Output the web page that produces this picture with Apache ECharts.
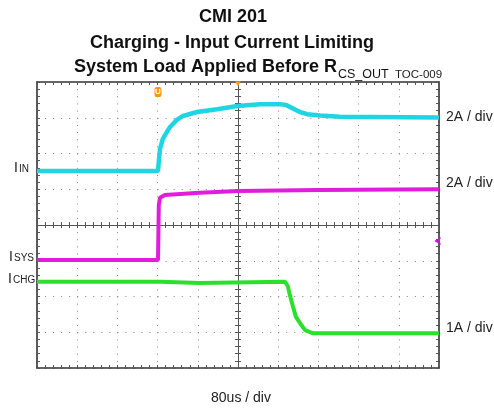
<!DOCTYPE html>
<html><head><meta charset="utf-8">
<script src="https://cdn.jsdelivr.net/npm/echarts@6/dist/echarts.min.js"></script>
<style>html,body{margin:0;padding:0;background:#fff}#c{width:494px;height:411px}</style>
</head><body><div id="c"></div>
<script>
// Text
const titleLines = ['CMI 201', 'Charging - Input Current Limiting', 'System Load Applied Before R'];
const titleSub = 'CS_OUT';
const titleTag = 'TOC-009';
const traceSubs = ['IN', 'SYS', 'CHG'];
const scaleLabels = ['2A / div', '2A / div', '1A / div'];
const timeLabel = '80us / div';

// Traces: x in horizontal divisions (0..10), y in vertical divisions (0..8)
const inTime  = [0, 3.01, 3.02, 3.06, 3.13, 3.23, 3.31, 3.48, 3.63, 3.98, 4.48, 4.98, 5.55, 6.04, 6.19, 6.54, 6.72, 7.04, 7.54, 10];
const inLevel = [5.51, 5.51, 5.65, 6.13, 6.41, 6.60, 6.74, 6.94, 7.05, 7.16, 7.24, 7.33, 7.38, 7.38, 7.36, 7.16, 7.10, 7.06, 7.03, 7.01];
const sysTime  = [0, 3.01, 3.03, 3.06, 3.18, 4.05, 5.0, 7.0, 10];
const sysLevel = [3.02, 3.02, 4.56, 4.76, 4.84, 4.90, 4.95, 4.98, 5.0];
const chgTime  = [0, 3.06, 4.05, 6.17, 6.24, 6.29, 6.37, 6.44, 6.54, 6.67, 6.87, 10];
const chgLevel = [2.41, 2.41, 2.38, 2.41, 2.29, 2.04, 1.71, 1.43, 1.26, 1.06, 0.97, 0.97];
// Markers
const triggerPos = [3.01, 7.72];
const centerMarkPos = [5, 7.95];
const sysRefPos = [9.88, 3.55];

const zip = (a, b) => a.map((v, i) => [v, b[i]]);
const FONT = "'Liberation Sans', Arial, sans-serif";
const G = {left: 37, top: 82, width: 402, height: 286};

function axis(dim, position, offset, inside, showLine, split, lineStyle) {
  const isX = dim === 'x';
  return {
    type: 'value', min: 0, max: isX ? 10 : 8, interval: 1,
    position: position, offset: offset,
    axisLabel: {show: false},
    axisLine: {show: showLine, onZero: false, lineStyle: lineStyle},
    axisTick: {show: true, inside: inside, length: 3, lineStyle: {color: '#555', width: 1}},
    minorTick: {show: true, splitNumber: 5, length: 3, lineStyle: {color: '#555', width: 1}},
    splitLine: {show: split, lineStyle: {color: '#808080', width: 1, type: isX ? [1, 6.15] : [1, 7.04]}},
    z: 3
  };
}
const frameLine = {color: '#333', width: 1.6};
const centerLine = {color: '#555', width: 1};

const option = {
  animation: false,
  backgroundColor: '#fff',
  grid: Object.assign({containLabel: false}, G),
  xAxis: [
    axis('x', 'bottom', 0, true, true, true, frameLine),
    axis('x', 'top', 0, true, true, false, frameLine),
    axis('x', 'bottom', -G.height / 2, false, true, false, centerLine),
    axis('x', 'bottom', -G.height / 2, true, false, false, centerLine)
  ],
  yAxis: [
    axis('y', 'left', 0, true, true, true, frameLine),
    axis('y', 'right', 0, true, true, false, frameLine),
    axis('y', 'left', -G.width / 2, false, true, false, centerLine),
    axis('y', 'left', -G.width / 2, true, false, false, centerLine)
  ],
  series: [
    {
      type: 'line', name: 'IIN', data: zip(inTime, inLevel), showSymbol: false, z: 5,
      lineStyle: {color: '#1fd5e2', width: 4.5}, itemStyle: {color: '#1fd5e2'},
      markPoint: {
        silent: true,
        data: [
          {coord: triggerPos, symbol: 'roundRect', symbolSize: [7, 10], itemStyle: {color: '#f39a1e'},
           label: {show: true, formatter: 'U', color: '#fff', fontSize: 8, fontWeight: 'bold', position: 'inside'}},
          {coord: centerMarkPos, symbol: 'triangle', symbolRotate: 180, symbolSize: [6, 5], itemStyle: {color: '#f39a1e'},
           label: {show: false}}
        ]
      }
    },
    {
      type: 'line', name: 'ISYS', data: zip(sysTime, sysLevel), showSymbol: false, z: 5,
      lineStyle: {color: '#e01ddc', width: 4}, itemStyle: {color: '#e01ddc'},
      markPoint: {
        silent: true,
        data: [
          {coord: sysRefPos, symbol: 'arrow', symbolRotate: 90, symbolSize: [6, 7], itemStyle: {color: '#c21ec8'},
           label: {show: false}}
        ]
      }
    },
    {
      type: 'line', name: 'ICHG', data: zip(chgTime, chgLevel), showSymbol: false, z: 5,
      lineStyle: {color: '#2be02b', width: 4}, itemStyle: {color: '#2be02b'}
    }
  ],
  graphic: []
};

function txt(x, y, text, size, weight, align, vAlign, color) {
  return {type: 'text', x: x, y: y, silent: true, z: 100,
    style: {text: text, font: (weight || 'normal') + ' ' + size + 'px ' + FONT, fill: color || '#111',
      align: align, verticalAlign: vAlign, textAlign: align, textVerticalAlign: vAlign}};
}
const gr = option.graphic;
gr.push(txt(233, 17, titleLines[0], 18, 'bold', 'center', 'middle'));
gr.push(txt(232, 43, titleLines[1], 18, 'bold', 'center', 'middle'));
gr.push(txt(74, 76, titleLines[2], 18, 'bold', 'left', 'bottom'));
gr.push(txt(338, 81, titleSub, 12.5, 'normal', 'left', 'bottom'));
gr.push(txt(395, 81, titleTag, 11.5, 'normal', 'left', 'bottom', '#222'));
// left trace names: "I" + subscript
const leftY = [175, 264, 286];
const subX = [19, 14, 13];
traceSubs.forEach((s, i) => {
  gr.push(txt(subX[i] - 1, leftY[i], 'I', 14, 'normal', 'right', 'bottom', '#222'));
  gr.push(txt(subX[i], leftY[i] - 0.5, s, 10, 'normal', 'left', 'bottom', '#222'));
});
const rightY = [117, 183, 328];
scaleLabels.forEach((s, i) => gr.push(txt(446, rightY[i], s, 14, 'normal', 'left', 'middle', '#222')));
gr.push(txt(241, 398, timeLabel, 14, 'normal', 'center', 'middle', '#222'));

const chart = echarts.init(document.getElementById('c'), null, {renderer: 'canvas'});
chart.setOption(option);
</script>
</body></html>
